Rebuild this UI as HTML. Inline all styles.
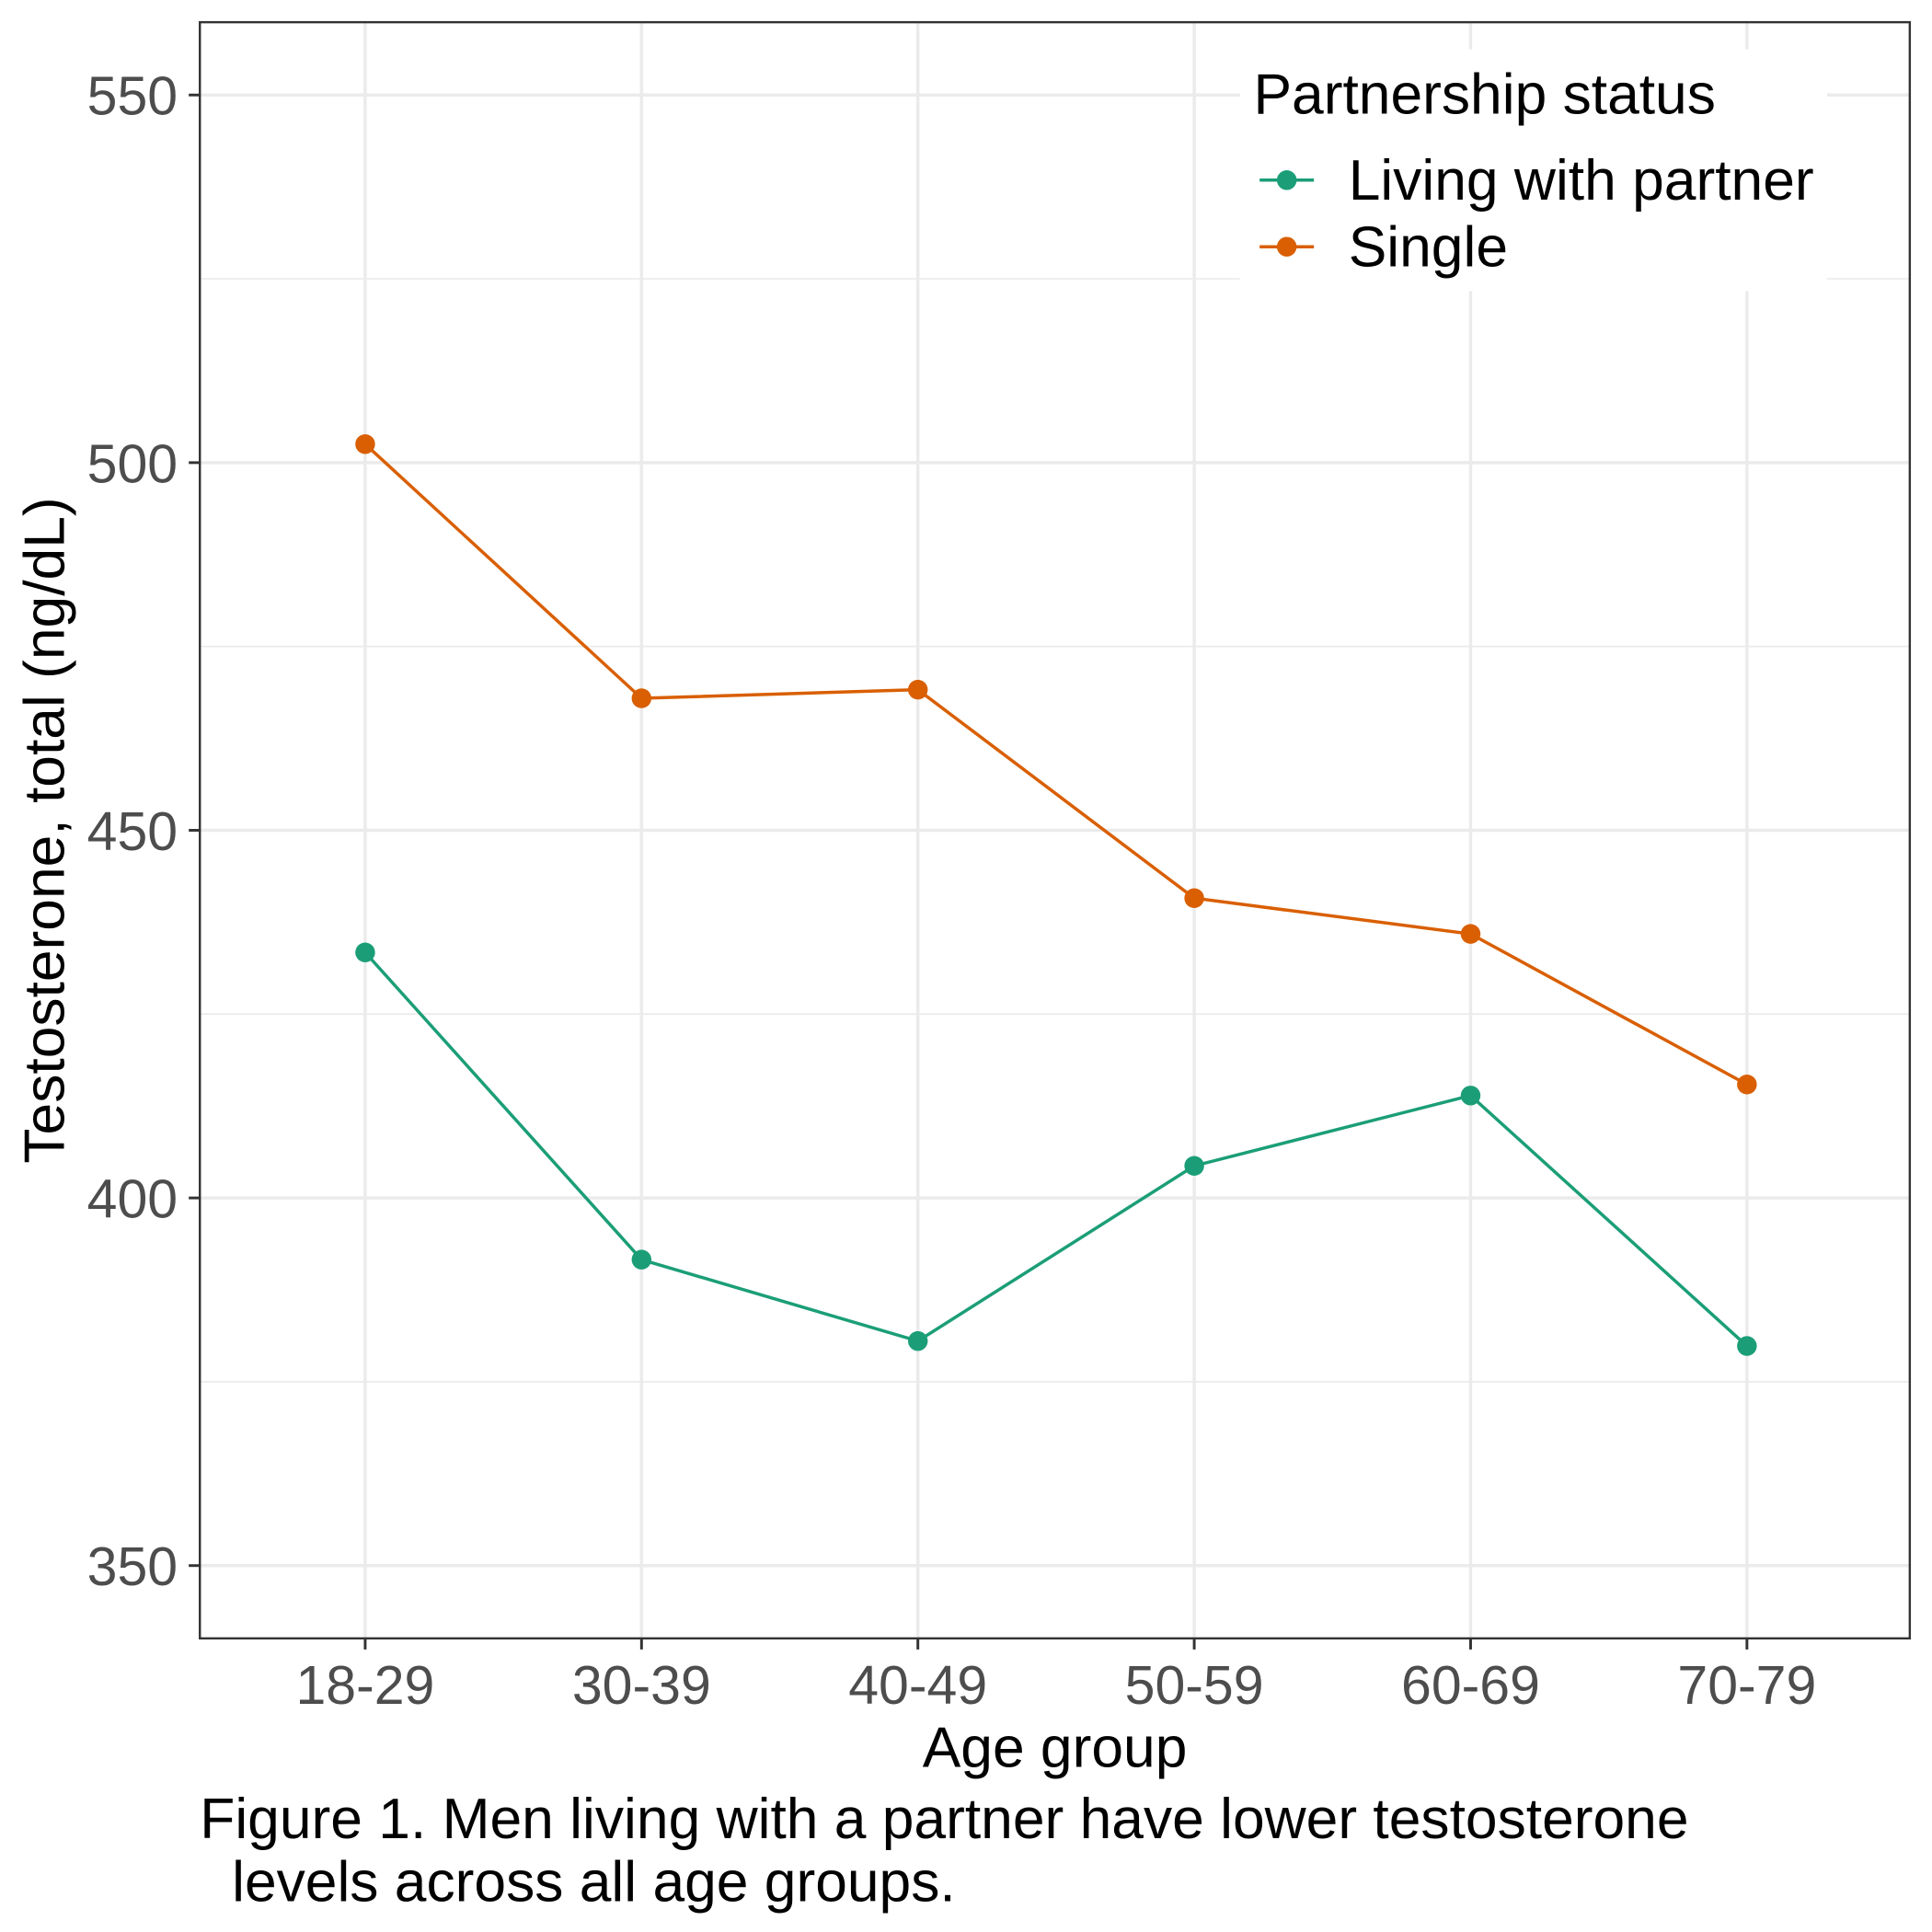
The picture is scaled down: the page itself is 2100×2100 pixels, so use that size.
<!DOCTYPE html>
<html><head><style>html,body{margin:0;padding:0;background:#fff}svg{display:block}</style></head>
<body>
<svg width="2100" height="2100" viewBox="0 0 1566 1566" xmlns="http://www.w3.org/2000/svg" font-family="Liberation Sans, Arial, sans-serif">
<rect width="1566" height="1566" fill="#fff"/>
<g stroke="#ebebeb" stroke-width="1.3">
<line x1="162" x2="1548" y1="226" y2="226"/><line x1="162" x2="1548" y1="524" y2="524"/><line x1="162" x2="1548" y1="822" y2="822"/><line x1="162" x2="1548" y1="1120" y2="1120"/>
</g>
<g stroke="#ebebeb" stroke-width="2.6">
<line x1="162" x2="1548" y1="77" y2="77"/><line x1="162" x2="1548" y1="375" y2="375"/><line x1="162" x2="1548" y1="673" y2="673"/><line x1="162" x2="1548" y1="971" y2="971"/><line x1="162" x2="1548" y1="1269" y2="1269"/>
<line y1="18" y2="1328" x1="296" x2="296"/><line y1="18" y2="1328" x1="520" x2="520"/><line y1="18" y2="1328" x1="744" x2="744"/><line y1="18" y2="1328" x1="968" x2="968"/><line y1="18" y2="1328" x1="1192" x2="1192"/><line y1="18" y2="1328" x1="1416" x2="1416"/>
</g>
<polyline fill="none" stroke="#d95f02" stroke-width="2.6" points="296,360 520,566 744,559 968,728 1192,757 1416,879"/>
<polyline fill="none" stroke="#1b9e77" stroke-width="2.6" points="296,772 520,1021 744,1087 968,945 1192,888 1416,1091"/>
<g fill="#d95f02"><circle cx="296" cy="360" r="8"/><circle cx="520" cy="566" r="8"/><circle cx="744" cy="559" r="8"/><circle cx="968" cy="728" r="8"/><circle cx="1192" cy="757" r="8"/><circle cx="1416" cy="879" r="8"/></g>
<g fill="#1b9e77"><circle cx="296" cy="772" r="8"/><circle cx="520" cy="1021" r="8"/><circle cx="744" cy="1087" r="8"/><circle cx="968" cy="945" r="8"/><circle cx="1192" cy="888" r="8"/><circle cx="1416" cy="1091" r="8"/></g>
<rect x="1005" y="40" width="476" height="196" fill="#fff"/>
<text x="1016" y="92" font-size="46.5" fill="#000">Partnership status</text>
<line x1="1021" x2="1065" y1="146" y2="146" stroke="#1b9e77" stroke-width="2.6"/><circle cx="1043" cy="146" r="8" fill="#1b9e77"/>
<line x1="1021" x2="1065" y1="200" y2="200" stroke="#d95f02" stroke-width="2.6"/><circle cx="1043" cy="200" r="8" fill="#d95f02"/>
<text x="1093" y="162" font-size="46.5" fill="#000">Living with partner</text>
<text x="1093" y="216" font-size="46.5" fill="#000">Single</text>
<rect x="162" y="18" width="1386" height="1310" fill="none" stroke="#333" stroke-width="1.8"/>
<g stroke="#333" stroke-width="2.2">
<line x1="153" x2="162" y1="77" y2="77"/><line x1="153" x2="162" y1="375" y2="375"/><line x1="153" x2="162" y1="673" y2="673"/><line x1="153" x2="162" y1="971" y2="971"/><line x1="153" x2="162" y1="1269" y2="1269"/>
<line y1="1328" y2="1337" x1="296" x2="296"/><line y1="1328" y2="1337" x1="520" x2="520"/><line y1="1328" y2="1337" x1="744" x2="744"/><line y1="1328" y2="1337" x1="968" x2="968"/><line y1="1328" y2="1337" x1="1192" x2="1192"/><line y1="1328" y2="1337" x1="1416" x2="1416"/>
</g>
<g font-size="44" fill="#4d4d4d" text-anchor="end">
<text x="144" y="93">550</text><text x="144" y="391">500</text><text x="144" y="689">450</text><text x="144" y="987">400</text><text x="144" y="1285">350</text>
</g>
<g font-size="44" fill="#4d4d4d" text-anchor="middle">
<text x="296" y="1381">18-29</text><text x="520" y="1381">30-39</text><text x="744" y="1381">40-49</text><text x="968" y="1381">50-59</text><text x="1192" y="1381">60-69</text><text x="1416" y="1381">70-79</text>
</g>
<text x="855" y="1432" font-size="46.5" text-anchor="middle" fill="#000">Age group</text>
<text transform="translate(52,673) rotate(-90)" font-size="46.5" text-anchor="middle" fill="#000">Testosterone, total (ng/dL)</text>
<text x="162" y="1490" font-size="46.5" fill="#000">Figure 1. Men living with a partner have lower testosterone</text>
<text x="188" y="1541" font-size="46.5" fill="#000">levels across all age groups.</text>
</svg>
</body></html>
